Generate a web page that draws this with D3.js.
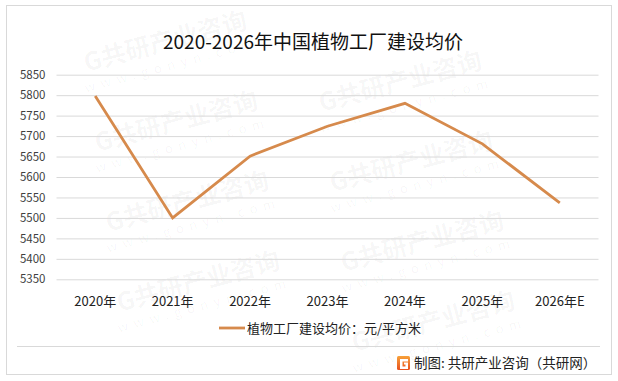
<!DOCTYPE html>
<html><head><meta charset="utf-8">
<script src="https://cdn.jsdelivr.net/npm/d3@7"></script>
<style>
html,body{margin:0;padding:0;background:#fff;}
svg{display:block;font-family:"Noto Sans CJK SC","Noto Sans",sans-serif;}
</style></head>
<body><svg id="c" width="618" height="381"></svg>
<script>
const categories = ["2020年","2021年","2022年","2023年","2024年","2025年","2026年E"];
const values = [5798, 5500, 5651, 5724, 5780, 5681, 5537];
const yTicks = [5350,5400,5450,5500,5550,5600,5650,5700,5750,5800,5850];
const title = "2020-2026年中国植物工厂建设均价";
const seriesName = "植物工厂建设均价：元/平方米";
const source = "制图: 共研产业咨询（共研网）";

const svg = d3.select("#c");
svg.append("rect").attr("x",0).attr("y",0).attr("width",618).attr("height",381).attr("fill","#fff");

// watermarks (only those that fit fully inside the picture)
const wm = svg.append("g").attr("pointer-events","none");
const a=[235,40], b=[224,-40], o=[167,48];
for(let i=-3;i<=4;i++){for(let j=-3;j<=4;j++){
  const cx=o[0]+i*a[0]+j*b[0], cy=o[1]+i*a[1]+j*b[1];
  if(cx<110||cx>510||cy<40||cy>335) continue;
  const g=wm.append("g").attr("transform",`translate(${cx},${cy}) rotate(-15)`);
  g.append("text").attr("x",0).attr("y",2).attr("text-anchor","middle")
    .attr("font-size",25).attr("font-weight","bold").attr("fill","#000").attr("fill-opacity",0.04)
    .text("G共研产业咨询");
  g.append("text").attr("x",0).attr("y",22).attr("text-anchor","middle")
    .attr("font-size",13).attr("letter-spacing","6px").attr("fill","#000").attr("fill-opacity",0.04)
    .text("www.gonyn.com");
}}

// outer border
svg.append("rect").attr("x",6.5).attr("y",5.5).attr("width",605).attr("height",369)
  .attr("fill","none").attr("stroke","#d9d9d9").attr("stroke-width",1);

svg.append("text").attr("x",313).attr("y",49).attr("text-anchor","middle")
  .attr("font-size",19).attr("fill","#111").text(title);

const x = d3.scaleBand().domain(categories).range([56.5,598.5]);
const y = d3.scaleLinear().domain([5350,5850]).range([279.3,74.7]);

const yAxis = svg.append("g").attr("transform","translate(56.5,0)")
  .call(d3.axisLeft(y).tickValues(yTicks).tickSize(-542).tickPadding(11).tickFormat(d3.format("d")));
yAxis.select(".domain").remove();
yAxis.selectAll(".tick line").attr("stroke","#d9d9d9");
yAxis.selectAll(".tick text").attr("font-size",11.5).attr("fill","#404040")
  .attr("font-family","'Noto Sans CJK SC','Noto Sans',sans-serif");

const xAxis = svg.append("g").attr("transform","translate(0,279.3)")
  .call(d3.axisBottom(x).tickSize(0).tickPadding(17));
xAxis.select(".domain").remove();
xAxis.selectAll(".tick text").attr("font-size",13).attr("fill","#222")
  .attr("font-family","'Noto Sans CJK SC','Noto Sans',sans-serif");

const line = d3.line().x((d,i)=>x(categories[i])+x.bandwidth()/2).y(d=>y(d));
svg.append("path").datum(values).attr("d",line).attr("fill","none")
  .attr("stroke","#D68A4C").attr("stroke-width",2.8).attr("stroke-linejoin","miter");

// legend
svg.append("line").attr("x1",219).attr("x2",245).attr("y1",328).attr("y2",328)
  .attr("stroke","#D68A4C").attr("stroke-width",2.8);
svg.append("text").attr("x",247).attr("y",332.5).attr("font-size",13).attr("fill","#222").text(seriesName);

// separator
svg.append("line").attr("x1",17).attr("x2",600).attr("y1",346.5).attr("y2",346.5)
  .attr("stroke","#d9d9d9").attr("stroke-width",1);

// logo
const defs = svg.append("defs");
const gr = defs.append("linearGradient").attr("id","lg").attr("x1",0).attr("y1",0).attr("x2",0).attr("y2",1);
gr.append("stop").attr("offset","0%").attr("stop-color","#F7A23A");
gr.append("stop").attr("offset","100%").attr("stop-color","#E8501E");
svg.append("rect").attr("x",397).attr("y",356).attr("width",13).attr("height",14).attr("rx",1.5).attr("fill","url(#lg)");
svg.append("path").attr("d","M400,359 h8 v2.5 h-5.5 v5 h3 v-2 h-1.5 v-2 h4 v6.5 h-8 z").attr("fill","#fff");
svg.append("text").attr("x",414).attr("y",368).attr("font-size",13.5).attr("fill","#222").text(source);
</script></body></html>
